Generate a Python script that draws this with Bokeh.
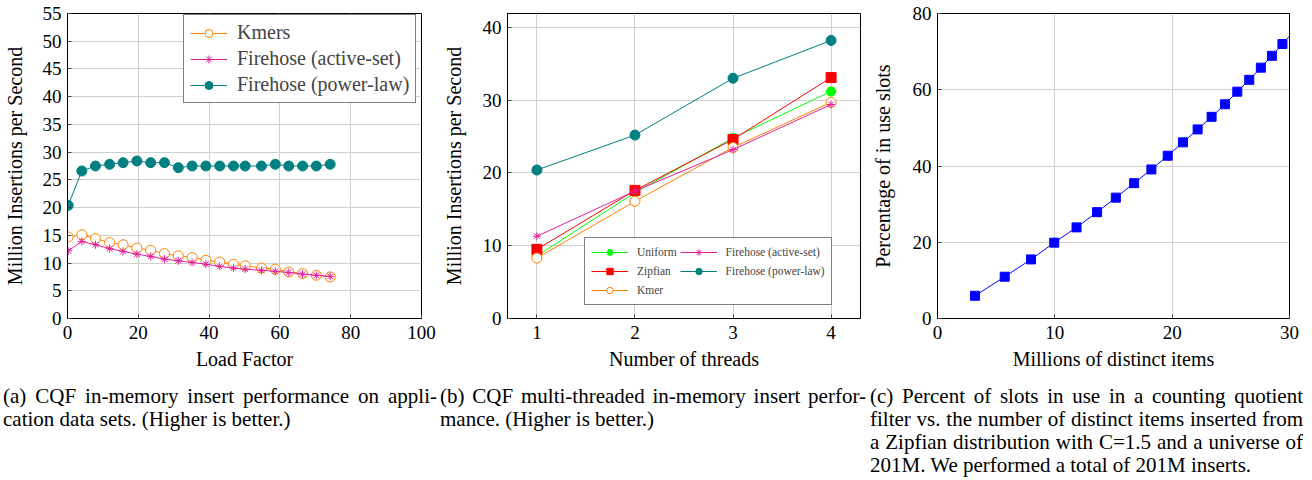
from bokeh.plotting import figure
from bokeh.models import Legend, LegendItem, Div, Range1d, FixedTicker
from bokeh.layouts import row, column
from bokeh.embed import file_html
from bokeh.resources import INLINE

# ---------------- data ----------------
load_factor = [0.2, 4.05, 7.9, 11.9, 15.7, 19.6, 23.5, 27.4, 31.3, 35.2,
               39.1, 43.0, 46.9, 50.2, 54.8, 58.7, 62.5, 66.4, 70.3, 74.2]
kmers_a = [14.7, 15.1, 14.4, 13.7, 13.3, 12.7, 12.3, 11.7, 11.3, 11.0,
           10.5, 10.2, 9.8, 9.5, 9.1, 8.9, 8.4, 8.1, 7.8, 7.5]
active_a = [12.2, 13.9, 13.3, 12.6, 12.1, 11.6, 11.2, 10.7, 10.4, 10.1,
            9.8, 9.4, 9.1, 8.9, 8.7, 8.5, 8.3, 8.0, 7.8, 7.6]
power_a = [20.4, 26.6, 27.5, 27.8, 28.1, 28.4, 28.1, 28.1, 27.2, 27.5,
           27.5, 27.5, 27.5, 27.5, 27.5, 27.8, 27.5, 27.5, 27.5, 27.8]

threads = [1, 2, 3, 4]
uniform_b = [8.6, 17.3, 24.8, 31.2]
zipfian_b = [9.5, 17.6, 24.6, 33.1]
kmer_b = [8.3, 16.1, 23.5, 29.7]
active_b = [11.3, 17.5, 23.2, 29.4]
power_b = [20.4, 25.2, 33.0, 38.2]

items_c = [3.2, 5.73, 7.97, 9.95, 11.85, 13.6, 15.2, 16.76, 18.23, 19.62,
           20.92, 22.17, 23.36, 24.5, 25.55, 26.57, 27.56, 28.5, 29.4, 30.3]
slots_c = [5.96, 10.96, 15.5, 19.9, 23.9, 27.9, 31.7, 35.5, 39.1, 42.7,
           46.2, 49.6, 52.9, 56.2, 59.5, 62.6, 65.8, 68.9, 72.0, 75.1]

ticks_a_x = [0, 20, 40, 60, 80, 100]
ticks_a_y = [0, 5, 10, 15, 20, 25, 30, 35, 40, 45, 50, 55]
ticks_b_x = [1, 2, 3, 4]
ticks_b_y = [0, 10, 20, 30, 40]
ticks_c_x = [0, 10, 20, 30]
ticks_c_y = [0, 20, 40, 60, 80]

caption_a = ["(a) CQF in-memory insert performance on appli-",
             "cation data sets. (Higher is better.)"]
caption_b = ["(b) CQF multi-threaded in-memory insert perfor-",
             "mance. (Higher is better.)"]
caption_c = ["(c) Percent of slots in use in a counting quotient",
             "filter vs. the number of distinct items inserted from",
             "a Zipfian distribution with C=1.5 and a universe of",
             "201M. We performed a total of 201M inserts."]

# ---------------- styles ----------------
FONT = "'Liberation Serif', serif"
ORANGE = "#FF8000"
MAGENTA = "#E2209A"
TEAL = "#008080"
GREEN = "#00FF00"
RED = "#FF0000"
BLUE = "#0000FF"


def make_fig(width, xr, yr, bl, br, xlabel, ylabel, tx, ty, ystand):
    p = figure(width=width, height=373, x_range=Range1d(*xr), y_range=Range1d(*yr),
               output_backend="svg", toolbar_location=None,
               min_border_left=bl, min_border_right=br, min_border_top=13,
               min_border_bottom=55)
    p.xaxis.ticker = FixedTicker(ticks=tx)
    p.yaxis.ticker = FixedTicker(ticks=ty)
    p.xaxis.axis_label = xlabel
    p.yaxis.axis_label = ylabel
    for ax in (p.xaxis[0], p.yaxis[0]):
        ax.major_label_text_font = FONT
        ax.major_label_text_font_size = "19px"
        ax.major_label_text_color = "black"
        ax.axis_label_text_font = FONT
        ax.axis_label_text_font_size = "20px"
        ax.axis_label_text_font_style = "normal"
        ax.axis_label_text_color = "black"
        ax.major_tick_in = 4
        ax.major_tick_out = 0
        ax.major_tick_line_color = "#444444"
        ax.minor_tick_line_color = None
        ax.axis_line_color = "black"
    p.xaxis.major_label_standoff = 7
    p.xaxis.axis_label_standoff = 6
    p.yaxis.major_label_standoff = 6
    p.yaxis.axis_label_standoff = ystand
    p.grid.grid_line_color = "#cfcfcf"
    p.grid.grid_line_width = 1
    p.outline_line_color = "black"
    p.outline_line_width = 1
    p.background_fill_color = "white"
    p.border_fill_color = "white"
    return p


# ---------------- panel (a) ----------------
pa = make_fig(437, (0, 100), (0, 55), 67, 16, "Load Factor",
              "Million Insertions per Second", ticks_a_x, ticks_a_y, 14)
l1 = pa.line(load_factor, kmers_a, line_color=ORANGE, line_width=1)
s1 = pa.scatter(load_factor, kmers_a, marker="circle", size=10,
                line_color=ORANGE, fill_color="white", line_width=1)
l2 = pa.line(load_factor, active_a, line_color=MAGENTA, line_width=1)
s2 = pa.scatter(load_factor, active_a, marker="asterisk", size=8,
                line_color=MAGENTA, line_width=1)
l3 = pa.line(load_factor, power_a, line_color=TEAL, line_width=1)
s3 = pa.scatter(load_factor, power_a, marker="circle", size=10,
                line_color=TEAL, fill_color=TEAL)
leg_a = Legend(items=[LegendItem(label="Kmers", renderers=[l1, s1]),
                      LegendItem(label="Firehose (active-set)", renderers=[l2, s2]),
                      LegendItem(label="Firehose (power-law)", renderers=[l3, s3])],
               location=(116, 215), margin=0, padding=6, spacing=3,
               glyph_width=37, glyph_height=20, label_height=20,
               label_standoff=10,
               label_text_font=FONT, label_text_font_size="20px",
               border_line_color="black", border_line_width=1,
               background_fill_alpha=1.0)
pa.add_layout(leg_a)

# ---------------- panel (b) ----------------
pb = make_fig(429, (0.7, 4.3), (0, 41.9), 70, 6, "Number of threads",
              "Million Insertions per Second", ticks_b_x, ticks_b_y, 15)
bl1 = pb.line(threads, uniform_b, line_color=GREEN, line_width=1)
bs1 = pb.scatter(threads, uniform_b, marker="hex", size=10,
                 line_color=GREEN, fill_color=GREEN)
bl2 = pb.line(threads, zipfian_b, line_color=RED, line_width=1)
bs2 = pb.scatter(threads, zipfian_b, marker="square", size=10,
                 line_color=RED, fill_color=RED)
bl3 = pb.line(threads, kmer_b, line_color=ORANGE, line_width=1)
bs3 = pb.scatter(threads, kmer_b, marker="circle", size=10,
                 line_color=ORANGE, fill_color="white")
bl4 = pb.line(threads, active_b, line_color=MAGENTA, line_width=1)
bs4 = pb.scatter(threads, active_b, marker="asterisk", size=8,
                 line_color=MAGENTA)
bl5 = pb.line(threads, power_b, line_color=TEAL, line_width=1)
bs5 = pb.scatter(threads, power_b, marker="circle", size=10,
                 line_color=TEAL, fill_color=TEAL)
leg_b = Legend(items=[LegendItem(label="Uniform", renderers=[bl1, bs1]),
                      LegendItem(label="Zipfian", renderers=[bl2, bs2]),
                      LegendItem(label="Kmer", renderers=[bl3, bs3]),
                      LegendItem(label="Firehose (active-set)", renderers=[bl4, bs4]),
                      LegendItem(label="Firehose (power-law)", renderers=[bl5, bs5])],
               location=(77, 13), margin=0, padding=6, spacing=3,
               orientation="vertical", nrows=3,
               glyph_width=37, glyph_height=16, label_height=16,
               label_standoff=9,
               label_text_font=FONT, label_text_font_size="11.5px",
               border_line_color="black", border_line_width=1,
               background_fill_alpha=1.0)
pb.add_layout(leg_b)

# ---------------- panel (c) ----------------
pc = make_fig(438, (0, 30), (0, 80), 71, 15, "Millions of distinct items",
              "Percentage of in use slots", ticks_c_x, ticks_c_y, 16)
pc.line(items_c, slots_c, line_color=BLUE, line_width=1)
pc.scatter(items_c[:-1], slots_c[:-1], marker="square", size=9,
           line_color=BLUE, fill_color=BLUE)


# ---------------- captions ----------------
def caption_html(lines, shift, width):
    out = [f'<div style="margin-left:{shift}px;width:{width}px;font-family:\'Liberation Serif\',serif;'
           f'font-size:21px;line-height:23px;color:black;">']
    for i, ln in enumerate(lines):
        al = "left" if i == len(lines) - 1 else "justify"
        out.append(f'<div style="text-align:{al};text-align-last:{al};">{ln}</div>')
    out.append('</div>')
    return "".join(out)


da = Div(text=caption_html(caption_a, 3, 434), width=437, margin=(12, 0, 0, 0))
db = Div(text=caption_html(caption_b, 3, 426), width=429, margin=(12, 0, 0, 0))
dc = Div(text=caption_html(caption_c, 4, 433), width=438, margin=(12, 0, 0, 0))

layout = column(row(pa, pb, pc), row(da, db, dc))

open("out.html", "w").write(file_html(layout, INLINE))
